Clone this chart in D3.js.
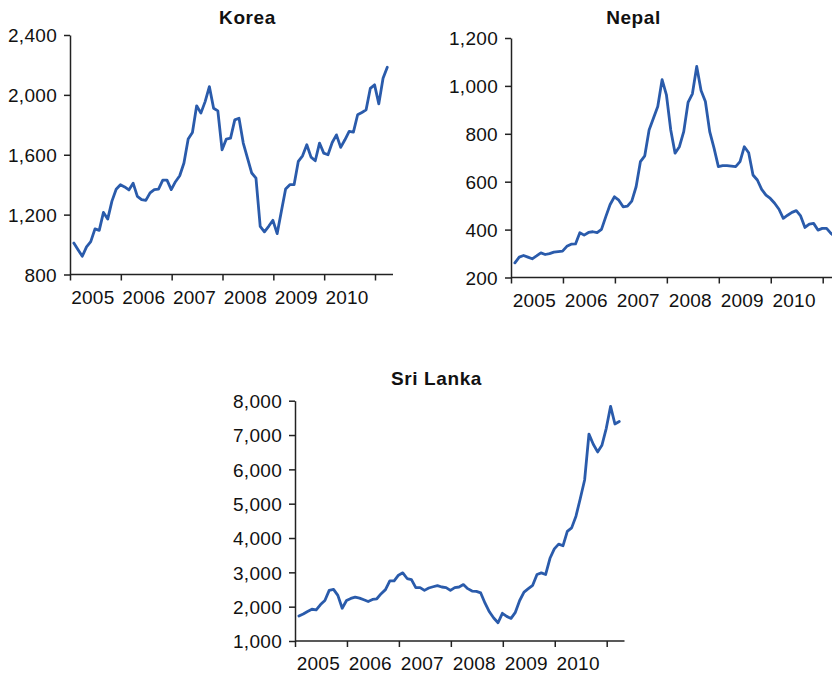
<!DOCTYPE html>
<html>
<head>
<meta charset="utf-8">
<script src="https://cdn.jsdelivr.net/npm/d3@7"></script>
<style>
  html, body { margin: 0; padding: 0; background: #fff; }
  svg { display: block; }
  .tick text { font-family: "Liberation Sans", Arial, sans-serif; font-size: 19px; fill: #111; letter-spacing: 0.3px; }
  .title { font-family: "Liberation Sans", Arial, sans-serif; font-size: 19px; font-weight: bold; fill: #111; letter-spacing: 0.6px; }
  .yearlabel { font-family: "Liberation Sans", Arial, sans-serif; font-size: 19px; fill: #111; letter-spacing: 0.2px; }
</style>
</head>
<body>
<script>
// ---- data ----
const startYear = 2005;                       // first month = Jan 2005, monthly series
const yearLabels = ["2005", "2006", "2007", "2008", "2009", "2010"];
const yearTicks = [2005, 2006, 2007, 2008, 2009, 2010, 2011];

const koreaTitle = "Korea";
const koreaTicks = [800, 1200, 1600, 2000, 2400];
const koreaValues = [1010, 965, 922, 985, 1020, 1105, 1095, 1215, 1170, 1290, 1370, 1400,
  1385, 1365, 1410, 1322, 1300, 1295, 1345, 1367, 1370, 1430, 1430, 1367,
  1420, 1460, 1545, 1705, 1749, 1927, 1878, 1955, 2055, 1911, 1893, 1633,
  1705, 1711, 1833, 1844, 1678, 1578, 1478, 1444, 1122, 1085, 1122, 1162,
  1073, 1222, 1371, 1400, 1400, 1556, 1593, 1667, 1584, 1560, 1678, 1611,
  1600, 1682, 1733, 1649, 1700, 1756, 1751, 1867, 1882, 1900, 2044, 2067,
  1940, 2111, 2185];

const nepalTitle = "Nepal";
const nepalTicks = [200, 400, 600, 800, 1000, 1200];
const nepalValues = [261, 285, 292, 285, 278, 290, 303, 296, 300, 306, 308, 310,
  330, 339, 340, 387, 377, 388, 391, 387, 401, 454, 505, 537,
  523, 495, 498, 519, 579, 684, 708, 816, 865, 914, 1026, 963,
  816, 719, 746, 809, 931, 967, 1081, 981, 935, 809, 740, 663,
  667, 667, 665, 663, 684, 746, 721, 628, 607, 568, 544, 530,
  510, 485, 447, 460, 472, 479, 457, 409, 423, 426, 398, 405,
  405, 384, 370];

const sriTitle = "Sri Lanka";
const sriTicks = [1000, 2000, 3000, 4000, 5000, 6000, 7000, 8000];
const sriValues = [1729, 1788, 1860, 1925, 1906, 2062, 2180, 2475, 2505, 2328, 1953, 2180,
  2240, 2278, 2248, 2200, 2150, 2210, 2230, 2378, 2496, 2750, 2750, 2918,
  2986, 2820, 2790, 2555, 2555, 2475, 2543, 2580, 2614, 2573, 2555, 2475,
  2555, 2573, 2643, 2525, 2455, 2445, 2400, 2100, 1850, 1670, 1531, 1806,
  1717, 1658, 1835, 2180, 2425, 2525, 2623, 2938, 2986, 2938, 3410, 3685,
  3823, 3773, 4195, 4295, 4637, 5150, 5690, 7027, 6732, 6508, 6702, 7195,
  7836, 7322, 7393];

// ---- layout ----
const W = 832, H = 675;
const svg = d3.select("body").append("svg").attr("width", W).attr("height", H);
const lineColor = "#2a5bab";
const axisColor = "#222";

function panel(cfg) {
  const x = d3.scaleLinear().domain([2005, 2011]).range([cfg.x0, cfg.x2011]);
  const y = d3.scaleLinear().domain([cfg.ticks[0], cfg.ticks[cfg.ticks.length - 1]]).range([cfg.yBottom, cfg.yTop]);
  const g = svg.append("g");

  // y axis
  const yAxis = d3.axisLeft(y).tickValues(cfg.ticks).tickFormat(d3.format(",")).tickSize(6).tickPadding(7).tickSizeOuter(0);
  const ya = g.append("g").attr("transform", `translate(${cfg.x0},0)`).call(yAxis);
  ya.select(".domain").attr("stroke", axisColor).attr("stroke-width", 1.5);
  ya.selectAll(".tick line").attr("stroke", axisColor).attr("stroke-width", 1.5);
  ya.selectAll(".tick text").attr("dy", "0.36em");

  // x axis
  const xAxis = d3.axisBottom(x).tickValues(yearTicks).tickFormat("").tickSize(6).tickSizeOuter(0);
  const xa = g.append("g").attr("transform", `translate(0,${cfg.yBottom})`).call(xAxis);
  xa.select(".domain").remove();
  xa.append("line").attr("x1", cfg.x0).attr("x2", cfg.xEnd).attr("y1", 0).attr("y2", 0)
    .attr("stroke", axisColor).attr("stroke-width", 1.5);
  xa.selectAll(".tick line").attr("stroke", axisColor).attr("stroke-width", 1.5);

  // year labels centred in each year interval
  g.selectAll("text.yearlabel").data(yearLabels).join("text")
    .attr("class", "yearlabel")
    .attr("x", d => x(+d + 0.45))
    .attr("y", cfg.yBottom + 29)
    .attr("text-anchor", "middle")
    .text(d => d);

  // line
  const line = d3.line()
    .x((d, i) => x(startYear + (i + 0.9) / 12))
    .y(d => y(d));
  g.append("path").datum(cfg.values)
    .attr("fill", "none").attr("stroke", lineColor).attr("stroke-width", 2.8)
    .attr("stroke-linejoin", "round").attr("stroke-linecap", "round")
    .attr("d", line);

  // title
  g.append("text").attr("class", "title").attr("x", cfg.titleX).attr("y", cfg.titleY)
    .attr("text-anchor", "middle").text(cfg.title);
}

panel({ title: koreaTitle, ticks: koreaTicks, values: koreaValues,
  x0: 70, x2011: 375, xEnd: 393, yTop: 35, yBottom: 274.5, titleX: 247.5, titleY: 24 });
panel({ title: nepalTitle, ticks: nepalTicks, values: nepalValues,
  x0: 511, x2011: 822.7, xEnd: 845, yTop: 38, yBottom: 277.5, titleX: 633.5, titleY: 24 });
panel({ title: sriTitle, ticks: sriTicks, values: sriValues,
  x0: 295, x2011: 606.7, xEnd: 624.5, yTop: 400.7, yBottom: 641, titleX: 436.5, titleY: 385 });
</script>
</body>
</html>
